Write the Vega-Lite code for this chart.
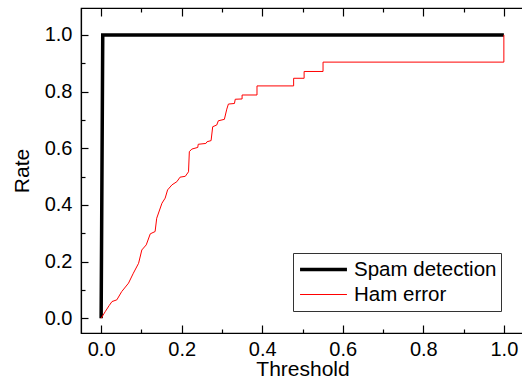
{
  "$schema": "https://vega.github.io/schema/vega-lite/v6.json",
  "width": 443,
  "height": 325,
  "autosize": {"type": "none"},
  "padding": {"left": 81, "top": 8, "right": 0, "bottom": 48},
  "background": "white",
  "config": {
    "font": "Liberation Sans",
    "view": {"stroke": "black", "strokeWidth": 1.2},
    "axis": {
      "domainColor": "black",
      "tickColor": "black",
      "labelColor": "black",
      "titleColor": "black",
      "labelFont": "Liberation Sans",
      "titleFont": "Liberation Sans",
      "labelFontSize": 20,
      "titleFontSize": 21,
      "titleFontWeight": "normal",
      "grid": false,
      "domainWidth": 1.2,
      "tickWidth": 1.2
    }
  },
  "data": {
    "values": [
      {"i": 0, "series": "Spam detection", "t": 0.0, "rate": 0.0},
      {"i": 1, "series": "Spam detection", "t": 0.004, "rate": 1.0},
      {"i": 2, "series": "Spam detection", "t": 1.0, "rate": 1.0},
      {"i": 0, "series": "Ham error", "t": 0.0, "rate": 0.0},
      {"i": 1, "series": "Ham error", "t": 0.010, "rate": 0.023},
      {"i": 2, "series": "Ham error", "t": 0.020, "rate": 0.045},
      {"i": 3, "series": "Ham error", "t": 0.027, "rate": 0.059},
      {"i": 4, "series": "Ham error", "t": 0.039, "rate": 0.065},
      {"i": 5, "series": "Ham error", "t": 0.051, "rate": 0.094},
      {"i": 6, "series": "Ham error", "t": 0.068, "rate": 0.124},
      {"i": 7, "series": "Ham error", "t": 0.080, "rate": 0.159},
      {"i": 8, "series": "Ham error", "t": 0.093, "rate": 0.194},
      {"i": 9, "series": "Ham error", "t": 0.101, "rate": 0.241},
      {"i": 10, "series": "Ham error", "t": 0.112, "rate": 0.259},
      {"i": 11, "series": "Ham error", "t": 0.122, "rate": 0.298},
      {"i": 12, "series": "Ham error", "t": 0.134, "rate": 0.306},
      {"i": 13, "series": "Ham error", "t": 0.138, "rate": 0.353},
      {"i": 14, "series": "Ham error", "t": 0.151, "rate": 0.406},
      {"i": 15, "series": "Ham error", "t": 0.159, "rate": 0.424},
      {"i": 16, "series": "Ham error", "t": 0.165, "rate": 0.453},
      {"i": 17, "series": "Ham error", "t": 0.176, "rate": 0.471},
      {"i": 18, "series": "Ham error", "t": 0.188, "rate": 0.482},
      {"i": 19, "series": "Ham error", "t": 0.196, "rate": 0.498},
      {"i": 20, "series": "Ham error", "t": 0.209, "rate": 0.501},
      {"i": 21, "series": "Ham error", "t": 0.217, "rate": 0.517},
      {"i": 22, "series": "Ham error", "t": 0.219, "rate": 0.588},
      {"i": 23, "series": "Ham error", "t": 0.225, "rate": 0.597},
      {"i": 24, "series": "Ham error", "t": 0.240, "rate": 0.603},
      {"i": 25, "series": "Ham error", "t": 0.241, "rate": 0.614},
      {"i": 26, "series": "Ham error", "t": 0.260, "rate": 0.617},
      {"i": 27, "series": "Ham error", "t": 0.263, "rate": 0.623},
      {"i": 28, "series": "Ham error", "t": 0.273, "rate": 0.627},
      {"i": 29, "series": "Ham error", "t": 0.277, "rate": 0.676},
      {"i": 30, "series": "Ham error", "t": 0.287, "rate": 0.682},
      {"i": 31, "series": "Ham error", "t": 0.291, "rate": 0.697},
      {"i": 32, "series": "Ham error", "t": 0.306, "rate": 0.702},
      {"i": 33, "series": "Ham error", "t": 0.312, "rate": 0.738},
      {"i": 34, "series": "Ham error", "t": 0.316, "rate": 0.756},
      {"i": 35, "series": "Ham error", "t": 0.331, "rate": 0.758},
      {"i": 36, "series": "Ham error", "t": 0.333, "rate": 0.773},
      {"i": 37, "series": "Ham error", "t": 0.350, "rate": 0.774},
      {"i": 38, "series": "Ham error", "t": 0.350, "rate": 0.788},
      {"i": 39, "series": "Ham error", "t": 0.387, "rate": 0.788},
      {"i": 40, "series": "Ham error", "t": 0.387, "rate": 0.820},
      {"i": 41, "series": "Ham error", "t": 0.478, "rate": 0.820},
      {"i": 42, "series": "Ham error", "t": 0.478, "rate": 0.847},
      {"i": 43, "series": "Ham error", "t": 0.504, "rate": 0.847},
      {"i": 44, "series": "Ham error", "t": 0.504, "rate": 0.871},
      {"i": 45, "series": "Ham error", "t": 0.551, "rate": 0.871},
      {"i": 46, "series": "Ham error", "t": 0.551, "rate": 0.904},
      {"i": 47, "series": "Ham error", "t": 1.0, "rate": 0.904},
      {"i": 48, "series": "Ham error", "t": 1.0, "rate": 1.0}
    ]
  },
  "resolve": {"axis": {"x": "independent", "y": "independent"}},
  "layer": [
    {
      "mark": {"type": "line", "opacity": 0},
      "encoding": {
        "x": {
          "field": "t", "type": "quantitative",
          "scale": {"domain": [-0.05, 1.05], "nice": false, "zero": false},
          "axis": {
            "orient": "top", "title": null, "labels": false, "domain": false,
            "values": [0, 0.1, 0.2, 0.3, 0.4, 0.5, 0.6, 0.7, 0.8, 0.9, 1.0],
            "tickSize": {"condition": {"test": "abs(round(datum.value*10)) % 2 == 1", "value": -4}, "value": -8}
          }
        },
        "y": {
          "field": "rate", "type": "quantitative",
          "scale": {"domain": [-0.052, 1.095], "nice": false, "zero": false},
          "axis": null
        },
        "detail": {"field": "series"},
        "order": {"field": "i", "type": "quantitative"}
      }
    },
    {
      "mark": {"type": "line", "clip": true},
      "encoding": {
        "x": {
          "field": "t", "type": "quantitative",
          "scale": {"domain": [-0.05, 1.05], "nice": false, "zero": false},
          "axis": {
            "title": "Threshold", "titlePadding": -1,
            "values": [0, 0.1, 0.2, 0.3, 0.4, 0.5, 0.6, 0.7, 0.8, 0.9, 1.0],
            "labelExpr": "abs(round(datum.value*10)) % 2 == 0 ? format(datum.value, '.1f') : ''",
            "tickSize": {"condition": {"test": "abs(round(datum.value*10)) % 2 == 1", "value": -4}, "value": -8},
            "labelPadding": 14
          }
        },
        "y": {
          "field": "rate", "type": "quantitative",
          "scale": {"domain": [-0.052, 1.095], "nice": false, "zero": false},
          "axis": {
            "title": "Rate", "titlePadding": 12,
            "values": [0, 0.1, 0.2, 0.3, 0.4, 0.5, 0.6, 0.7, 0.8, 0.9, 1.0],
            "labelExpr": "abs(round(datum.value*10)) % 2 == 0 ? format(datum.value, '.1f') : ''",
            "tickSize": {"condition": {"test": "abs(round(datum.value*10)) % 2 == 1", "value": -4}, "value": -7},
            "labelPadding": 16
          }
        },
        "color": {
          "field": "series", "type": "nominal",
          "scale": {"domain": ["Spam detection", "Ham error"], "range": ["black", "red"]},
          "legend": {
            "title": null, "orient": "none", "legendX": 212, "legendY": 245,
            "symbolType": "stroke", "symbolSize": 2200, "clipHeight": 25,
            "labelFontSize": 20.5, "labelFont": "Liberation Sans", "labelColor": "black",
            "strokeColor": "#333", "padding": 4, "symbolOffset": 1, "labelOffset": 5, "rowPadding": 0
          }
        },
        "strokeWidth": {
          "field": "series", "type": "nominal",
          "scale": {"domain": ["Spam detection", "Ham error"], "range": [3.5, 1]},
          "legend": null
        },
        "order": {"field": "i", "type": "quantitative"}
      }
    }
  ]
}
